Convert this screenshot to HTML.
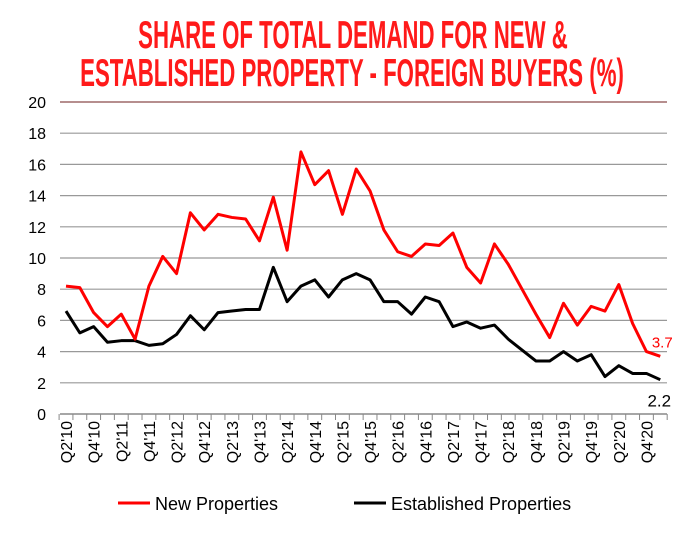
<!DOCTYPE html>
<html><head><meta charset="utf-8"><style>
body{margin:0;background:#fff;width:693px;height:528px;overflow:hidden;font-family:"Liberation Sans",sans-serif}
</style></head><body>
<svg id="c" width="693" height="528" xmlns="http://www.w3.org/2000/svg">
<g fill="#ff1a1a" font-weight="bold" font-size="39" text-anchor="middle">
<text x="353" y="48" transform="translate(353 0) scale(0.57 1) translate(-353 0)">SHARE OF TOTAL DEMAND FOR NEW &amp;</text>
<text x="352" y="86" transform="translate(352 0) scale(0.57 1) translate(-352 0)">ESTABLISHED PROPERTY - FOREIGN BUYERS (%)</text>
</g>
<g id="grid"></g><g id="yl"></g><g id="xl"></g><g id="lines"></g>
<g>
<line x1="118" y1="503" x2="150" y2="503" stroke="#ff0000" stroke-width="3"/>
<text x="155" y="510" font-size="18" fill="#000">New Properties</text>
<line x1="354" y1="503" x2="386" y2="503" stroke="#000" stroke-width="3"/>
<text x="391" y="510" font-size="18" fill="#000">Established Properties</text>
</g>
</svg>
<script>
const quarters=["Q2'10","Q3'10","Q4'10","Q1'11","Q2'11","Q3'11","Q4'11","Q1'12","Q2'12","Q3'12","Q4'12","Q1'13","Q2'13","Q3'13","Q4'13","Q1'14","Q2'14","Q3'14","Q4'14","Q1'15","Q2'15","Q3'15","Q4'15","Q1'16","Q2'16","Q3'16","Q4'16","Q1'17","Q2'17","Q3'17","Q4'17","Q1'18","Q2'18","Q3'18","Q4'18","Q1'19","Q2'19","Q3'19","Q4'19","Q1'20","Q2'20","Q3'20","Q4'20","Q1'21"];
const newProps=[8.2,8.1,6.5,5.6,6.4,4.8,8.2,10.1,9.0,12.9,11.8,12.8,12.6,12.5,11.1,13.9,10.5,16.8,14.7,15.6,12.8,15.7,14.3,11.8,10.4,10.1,10.9,10.8,11.6,9.4,8.4,10.9,9.6,8.0,6.4,4.9,7.1,5.7,6.9,6.6,8.3,5.8,4.0,3.7];
const estProps=[6.6,5.2,5.6,4.6,4.7,4.7,4.4,4.5,5.1,6.3,5.4,6.5,6.6,6.7,6.7,9.4,7.2,8.2,8.6,7.5,8.6,9.0,8.6,7.2,7.2,6.4,7.5,7.2,5.6,5.9,5.5,5.7,4.8,4.1,3.4,3.4,4.0,3.4,3.8,2.4,3.1,2.6,2.6,2.2];
const yTicks=[0,2,4,6,8,10,12,14,16,18,20];
const NS="http://www.w3.org/2000/svg";
const y=v=>414-v*15.6;
const x=i=>66+i*13.82;
function mk(t,a,p){const e=document.createElementNS(NS,t);for(const k in a)e.setAttribute(k,a[k]);p.appendChild(e);return e;}
const grid=document.getElementById('grid'),yl=document.getElementById('yl'),xl=document.getElementById('xl'),lines=document.getElementById('lines');
yTicks.forEach(v=>{
 if(v>0){const g=mk('line',{x1:60,x2:667,y1:y(v),y2:y(v),stroke:v==20?'#8b4b4b':'#999','stroke-width':1.2},grid);
 
 }
 const t=mk('text',{x:46,y:y(v)+6,'text-anchor':'end','font-size':16,fill:'#000'},yl);t.textContent=v;
 
 
});
const ax=mk('line',{x1:60,x2:667,y1:414,y2:414,stroke:'#888','stroke-width':1.5},grid);


for(let i=0;i<=quarters.length;i++){const tx=x(i)-6.9;mk('line',{x1:tx,x2:tx,y1:414,y2:420,stroke:'#888'},grid);}
quarters.forEach((q,i)=>{if(i%2)return;
 const t=mk('text',{x:0,y:0,'text-anchor':'end','font-size':16,fill:'#000',transform:`translate(${x(i)+6},421) rotate(-90)`},xl);t.textContent=q;
 
 
});
function series(d,c,n){const p=mk('polyline',{points:d.map((v,i)=>x(i)+','+y(v)).join(' '),fill:'none',stroke:c,'stroke-width':3,'stroke-linejoin':'round'},lines);
 
 }
series(estProps,'#000','established-projects-line'.replace('projects','properties'));
series(newProps,'#ff0000','new-properties-line');
const l1=mk('text',{x:x(43)+2,y:y(newProps[43])-9,'text-anchor':'middle','font-size':15,fill:'#ff0000'},lines);l1.textContent=newProps[43];


const l2=mk('text',{x:x(43)-1,y:y(estProps[43])+27,'text-anchor':'middle','font-size':17,fill:'#000'},lines);l2.textContent=estProps[43];


</script>
</body></html>
